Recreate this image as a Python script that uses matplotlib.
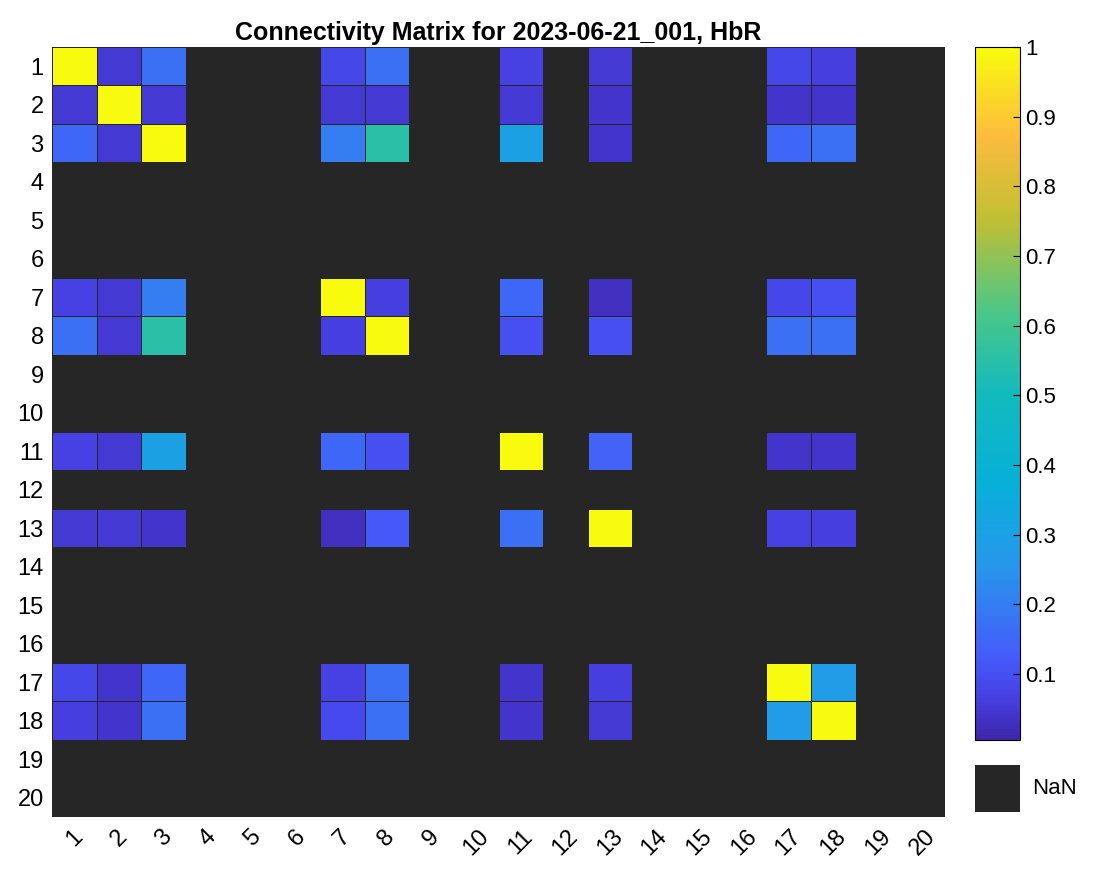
import numpy as np
import matplotlib.pyplot as plt
from matplotlib.colors import LinearSegmentedColormap
from matplotlib.patches import Rectangle

plt.rcParams['font.family'] = ['Liberation Sans', 'DejaVu Sans']

labels = [str(i) for i in range(1, 21)]
active = [1, 2, 3, 7, 8, 11, 13, 17, 18]
# values for active channels (rows/cols in order of `active`)
vals = [
    [1.00, 0.05, 0.17, 0.08, 0.17, 0.07, 0.05, 0.08, 0.06],
    [0.05, 1.00, 0.05, 0.05, 0.05, 0.05, 0.04, 0.04, 0.04],
    [0.15, 0.05, 1.00, 0.20, 0.55, 0.30, 0.04, 0.15, 0.17],
    [0.07, 0.05, 0.20, 1.00, 0.06, 0.15, 0.03, 0.08, 0.10],
    [0.17, 0.05, 0.55, 0.06, 1.00, 0.10, 0.10, 0.17, 0.17],
    [0.07, 0.05, 0.30, 0.15, 0.10, 1.00, 0.14, 0.04, 0.04],
    [0.05, 0.05, 0.04, 0.03, 0.12, 0.17, 1.00, 0.07, 0.06],
    [0.08, 0.04, 0.15, 0.07, 0.17, 0.04, 0.06, 1.00, 0.28],
    [0.06, 0.04, 0.17, 0.09, 0.17, 0.04, 0.05, 0.28, 1.00],
]
vmin = 0.005

M = np.full((20, 20), np.nan)
for i, r in enumerate(active):
    for j, c in enumerate(active):
        M[r - 1, c - 1] = vals[i][j]

parula = LinearSegmentedColormap.from_list("parula", [
    (0.00, (0.2422, 0.1504, 0.6603)),
    (0.06, (0.2780, 0.2500, 0.8900)),
    (0.12, (0.2700, 0.3600, 0.9800)),
    (0.25, (0.1540, 0.5902, 0.9218)),
    (0.37, (0.0300, 0.6900, 0.8500)),
    (0.50, (0.0700, 0.7300, 0.7400)),
    (0.62, (0.3000, 0.7800, 0.5300)),
    (0.75, (0.7500, 0.7500, 0.2000)),
    (0.87, (0.9871, 0.7348, 0.2438)),
    (1.00, (0.9763, 0.9831, 0.0538)),
])
parula.set_bad("#262626")

fig = plt.figure(figsize=(10.94, 8.73), dpi=100)
ax = fig.add_axes([52/1094, 1-817/873, 893/1094, 770/873])
ax.set_facecolor("#262626")
Mm = np.ma.masked_invalid(M)
mesh = ax.pcolormesh(np.arange(21) + 0.5, np.arange(21) + 0.5, Mm, cmap=parula,
                     vmin=vmin, vmax=1, edgecolor="#262626", linewidth=0.6)
ax.set_xlim(0.5, 20.5)
ax.set_ylim(20.5, 0.5)
ax.set_xticks(range(1, 21))
ax.set_yticks(range(1, 21))
ax.set_xticklabels(labels, rotation=45, fontsize=17)
ax.set_yticklabels(labels, fontsize=17)
ax.tick_params(length=0, pad=6)
for s in ax.spines.values():
    s.set_visible(False)
ax.set_title("Connectivity Matrix for 2023-06-21_001, HbR", fontsize=18,
             fontweight="bold", pad=5)

cax = fig.add_axes([975/1094, 1-740/873, 45/1094, 693/873])
cb = fig.colorbar(mesh, cax=cax)
cb.set_ticks([0.1, 0.2, 0.3, 0.4, 0.5, 0.6, 0.7, 0.8, 0.9, 1])
cb.set_ticklabels(["0.1", "0.2", "0.3", "0.4", "0.5", "0.6", "0.7", "0.8", "0.9", "1"])
cax.tick_params(labelsize=16, direction="in", length=5)

nax = fig.add_axes([975/1094, 1-812/873, 45/1094, 47/873])
nax.add_patch(Rectangle((0, 0), 1, 1, color="#262626"))
nax.set_xticks([]); nax.set_yticks([])
for s in nax.spines.values():
    s.set_visible(False)
fig.text(1032/1094, 1-789/873, "NaN", fontsize=16, va="center")

fig.savefig("out.png")
